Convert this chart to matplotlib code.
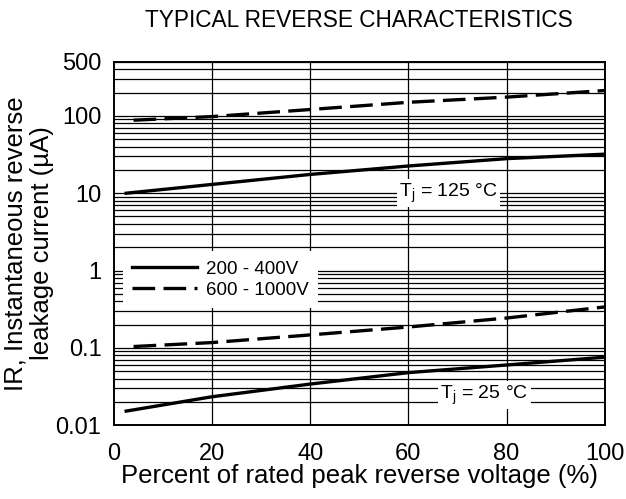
import matplotlib
matplotlib.use("Agg")
import matplotlib.pyplot as plt
import numpy as np

plt.rcParams['font.family'] = ['Liberation Sans', 'DejaVu Sans']

# percent of rated peak reverse voltage
pct_low = [2.5, 20, 40, 60, 80, 100]
pct_high = [4, 20, 40, 60, 80, 100]

# leakage current (uA)
ir125_low = [10, 13, 17.5, 22.5, 28, 32]
ir125_high = [88, 98, 121, 150, 175, 213]
ir25_low = [0.0152, 0.0233, 0.034, 0.0478, 0.060, 0.0757]
ir25_high = [0.104, 0.117, 0.147, 0.186, 0.243, 0.338]

xticks = [0, 20, 40, 60, 80, 100]
yticks = [0.01, 0.1, 1, 10, 100, 500]
ytick_labels = ['0.01', '0.1', '1', '10', '100', '500']

fig = plt.figure(figsize=(6.26, 4.99), dpi=100)
ax = fig.add_axes([0.182, 0.148, 0.784, 0.728])
ax.set_yscale('log')
ax.set_xlim(0, 100)
ax.set_ylim(0.01, 500)

# grid: every 1..9 in each decade, vertical at the inner x ticks
for d in [0.01, 0.1, 1, 10, 100]:
    for m in range(1, 10):
        v = d * m
        if v <= 500:
            ax.axhline(v, color='black', lw=0.9, zorder=1)
for xv in xticks[1:-1]:
    ax.axvline(xv, color='black', lw=0.9, zorder=1)

lw = 2.4
dash = (6.8, 2.5)
ax.plot(pct_low, ir125_low, color='black', lw=lw, zorder=3, label='200 - 400V')
ax.plot(pct_high, ir125_high, color='black', lw=lw, dashes=dash, zorder=3, label='600 - 1000V')
ax.plot(pct_low, ir25_low, color='black', lw=lw, zorder=3)
ax.plot(pct_high, ir25_high, color='black', lw=lw, dashes=dash, zorder=3)

leg = ax.legend(loc='upper left', bbox_to_anchor=(0.018, 0.479), borderaxespad=0,
                frameon=True, fancybox=False, fontsize=13.5, handlelength=3.45,
                handletextpad=0.48, labelspacing=0.22, borderpad=0.5)
leg.get_frame().set_facecolor('white')
leg.get_frame().set_edgecolor('none')
leg.get_frame().set_alpha(1)
leg.set_zorder(5)

box = dict(facecolor='white', edgecolor='none', pad=1.5)
ax.text(68.2, 10.0, r'T$_\mathregular{j}$ = 125 °C', fontsize=14, ha='center', va='center',
        bbox=box, zorder=5)
ax.text(75.5, 0.0246, r'T$_\mathregular{j}$ = 25 °C', fontsize=14, ha='center', va='center',
        bbox=box, zorder=5)

ax.set_xticks(xticks)
ax.set_yticks(yticks)
ax.set_yticklabels(ytick_labels)
ax.yaxis.set_minor_formatter(plt.NullFormatter())
ax.tick_params(axis='x', length=0, labelsize=17, pad=13)
ax.tick_params(axis='y', which='both', length=0, labelsize=17, pad=9)
for s in ax.spines.values():
    s.set_linewidth(1.4)
    s.set_zorder(6)

ax.set_xlabel('Percent of rated peak reverse voltage (%)', fontsize=18.5, labelpad=-1)
ax.set_ylabel('IR, Instantaneous reverse\nleakage current (µA)', fontsize=18.5,
              labelpad=1, linespacing=1.12)
fig.text(0.573, 0.958, 'TYPICAL REVERSE CHARACTERISTICS', fontsize=16.3,
         ha='center', va='center')

fig.savefig('out.png', dpi=100)
